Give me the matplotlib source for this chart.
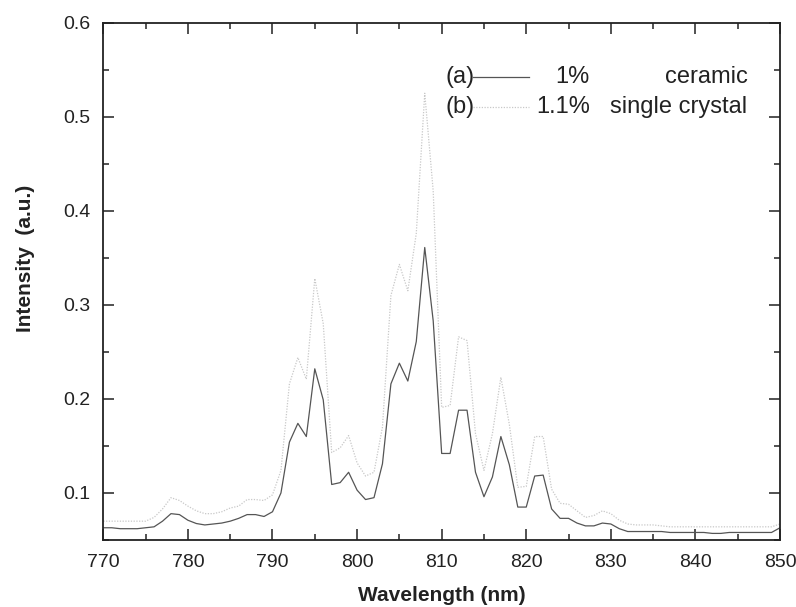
import numpy as np
import matplotlib
matplotlib.use("Agg")
import matplotlib.pyplot as plt
from matplotlib.lines import Line2D
from matplotlib.ticker import MultipleLocator

plt.rcParams["font.family"] = ["Liberation Sans", "DejaVu Sans"]

# ── data ────────────────────────────────────────────────
wavelength = np.arange(770, 851)  # nm, 1 nm step

ceramic_1 = [
    0.063, 0.063, 0.062, 0.062, 0.062, 0.063, 0.064, 0.070, 0.078, 0.077,  # 770-779
    0.071, 0.0675, 0.066, 0.067, 0.068, 0.070, 0.073, 0.077, 0.077, 0.075,  # 780-789
    0.080, 0.100, 0.154, 0.174, 0.160, 0.232, 0.199, 0.109, 0.111, 0.122,  # 790-799
    0.103, 0.093, 0.095, 0.131, 0.216, 0.238, 0.219, 0.261, 0.361, 0.283,  # 800-809
    0.142, 0.142, 0.188, 0.188, 0.122, 0.096, 0.117, 0.160, 0.130, 0.085,  # 810-819
    0.085, 0.118, 0.119, 0.083, 0.073, 0.073, 0.068, 0.065, 0.065, 0.068,  # 820-829
    0.067, 0.062, 0.059, 0.059, 0.059, 0.059, 0.059, 0.058, 0.058, 0.058,  # 830-839
    0.058, 0.058, 0.057, 0.057, 0.058, 0.058, 0.058, 0.058, 0.058, 0.058,  # 840-849
    0.063,                                                                 # 850
]

crystal_11 = [
    0.070, 0.070, 0.070, 0.070, 0.070, 0.070, 0.074, 0.083, 0.095, 0.092,  # 770-779
    0.086, 0.081, 0.078, 0.078, 0.080, 0.084, 0.086, 0.093, 0.093, 0.092,  # 780-789
    0.098, 0.124, 0.216, 0.244, 0.221, 0.328, 0.280, 0.143, 0.148, 0.161,  # 790-799
    0.132, 0.118, 0.122, 0.170, 0.310, 0.343, 0.315, 0.376, 0.525, 0.421,  # 800-809
    0.191, 0.193, 0.266, 0.262, 0.163, 0.124, 0.163, 0.223, 0.173, 0.106,  # 810-819
    0.107, 0.160, 0.160, 0.104, 0.089, 0.088, 0.081, 0.074, 0.076, 0.081,  # 820-829
    0.078, 0.071, 0.067, 0.066, 0.066, 0.066, 0.065, 0.064, 0.064, 0.064,  # 830-839
    0.064, 0.064, 0.064, 0.064, 0.064, 0.064, 0.064, 0.064, 0.064, 0.064,  # 840-849
    0.067,                                                                 # 850
]

COL_A = "#555555"
COL_B = "#c8c8c8"
INK = "#222222"

fig = plt.figure(figsize=(7.96, 6.07), dpi=100)
ax = fig.add_axes([0.1298, 0.1104, 0.8501, 0.8522])

ax.plot(wavelength, crystal_11, color=COL_B, linewidth=0.9, linestyle=(0, (1, 1.2)))
ax.plot(wavelength, ceramic_1, color=COL_A, linewidth=0.9)

ax.set_xlim(770, 850)
ax.set_ylim(0.05, 0.6)
ax.xaxis.set_major_locator(MultipleLocator(10))
ax.xaxis.set_minor_locator(MultipleLocator(5))
ax.yaxis.set_major_locator(MultipleLocator(0.1))
ax.yaxis.set_minor_locator(MultipleLocator(0.05))
ax.set_yticks([0.1, 0.2, 0.3, 0.4, 0.5, 0.6])
ax.set_yticklabels(["0.1", "0.2", "0.3", "0.4", "0.5", "0.6"])

ax.tick_params(which="both", direction="in", top=True, right=True,
               colors=INK, width=1.1)
ax.tick_params(which="major", length=8, labelsize=14, pad=9)
ax.tick_params(which="minor", length=4.5)
ax.tick_params(axis="x", which="major", pad=10)
for s in ax.spines.values():
    s.set_color(INK)
    s.set_linewidth(1.3)

ax.set_xlabel("Wavelength (nm)", fontsize=15, fontweight="bold", color=INK)
ax.xaxis.set_label_coords(0.5, -0.088)
ax.xaxis.label.set_va("top")
ax.set_ylabel("Intensity  (a.u.)", fontsize=15, fontweight="bold", color=INK)
ax.yaxis.set_label_coords(-0.101, 0.544)

# ── hand-laid legend (Origin style) ─────────────────────
rows = [
    ("(a)", "1%", "ceramic", COL_A, "-", 0.895),
    ("(b)", "1.1%", "single crystal", COL_B, (0, (1, 1.2)), 0.837),
]
for tag, conc, kind, col, ls, yy in rows:
    ax.text(0.505, yy, tag, transform=ax.transAxes, fontsize=17,
            ha="left", va="center", color=INK)
    ax.add_line(Line2D([0.546, 0.629], [yy, yy], transform=ax.transAxes,
                       color=col, linewidth=0.9, linestyle=ls))
    ax.text(0.719, yy, conc, transform=ax.transAxes, fontsize=17,
            ha="right", va="center", color=INK)
    ax.text(0.952, yy, kind, transform=ax.transAxes, fontsize=17,
            ha="right", va="center", color=INK)

fig.savefig("out.png", dpi=100, facecolor="white")
